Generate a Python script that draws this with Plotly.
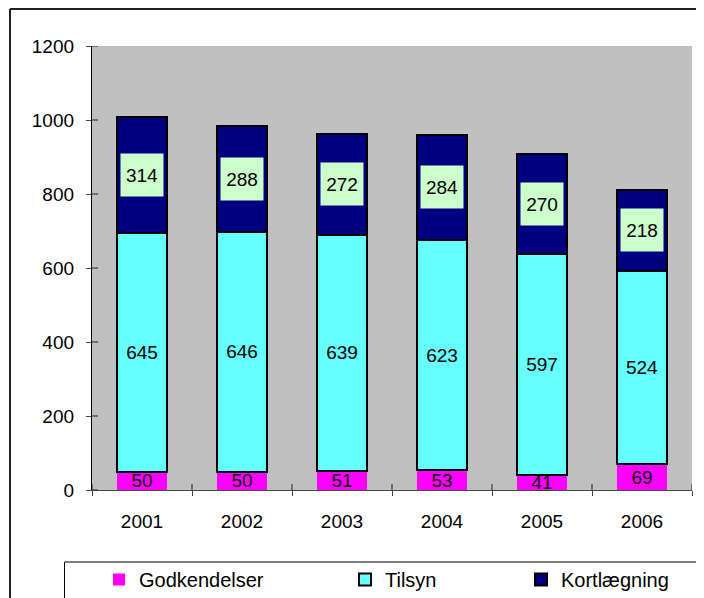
import plotly.graph_objects as go

years = ["2001", "2002", "2003", "2004", "2005", "2006"]
godkendelser = [50, 50, 51, 53, 41, 69]
tilsyn = [645, 646, 639, 623, 597, 524]
kortlaegning = [314, 288, 272, 284, 270, 218]
y_ticks = [0, 200, 400, 600, 800, 1000, 1200]

FONT = "Liberation Sans, Arial, sans-serif"
OFF = 8  # page body margin
W, H = 704 - OFF, 598 - OFF
L, T = 92 - OFF, 46 - OFF
R = W - (692 - OFF)
B = H - (490 - OFF)
PW, PH = W - L - R, H - T - B


def px(x):
    """reference page x -> paper fraction"""
    return (x - OFF - L) / PW


def py(y):
    """reference page y -> paper fraction"""
    return (H - B - (y - OFF)) / PH


lbl_font = dict(family=FONT, size=19, color="black")

fig = go.Figure()
fig.add_trace(go.Bar(
    x=years, y=godkendelser, name="Godkendelser",
    marker=dict(color="#FF00FF", line=dict(width=0)),
    text=godkendelser, textposition="inside", insidetextanchor="middle",
    textangle=0, constraintext="none", textfont=lbl_font,
    legend="legend",
))
fig.add_trace(go.Bar(
    x=years, y=tilsyn, name="Tilsyn",
    marker=dict(color="#66FFFF", line=dict(width=2, color="black")),
    text=tilsyn, textposition="inside", insidetextanchor="middle",
    textangle=0, constraintext="none", textfont=lbl_font,
    legend="legend2",
))
fig.add_trace(go.Bar(
    x=years, y=kortlaegning, name="Kortlægning",
    marker=dict(color="#000080", line=dict(width=2, color="black")),
    legend="legend3",
))

annotations = []
for i, (g, t, k) in enumerate(zip(godkendelser, tilsyn, kortlaegning)):
    annotations.append(dict(
        x=i, y=g + t + k / 2, xref="x", yref="y", text=str(k), showarrow=False,
        font=lbl_font, bgcolor="#CCFFCC", width=40, height=40, borderpad=1,
    ))

shapes = [
    # outer chart frame (left and top edges visible)
    dict(type="line", xref="paper", yref="paper", x0=px(10), x1=px(704),
         y0=py(9), y1=py(9), line=dict(color="#222222", width=2)),
    dict(type="line", xref="paper", yref="paper", x0=px(10), x1=px(10),
         y0=py(9), y1=py(598), line=dict(color="#222222", width=2)),
    # legend box (top and left edges visible)
    dict(type="line", xref="paper", yref="paper", x0=px(64.5), x1=px(704),
         y0=py(562), y1=py(562), line=dict(color="black", width=1)),
    dict(type="line", xref="paper", yref="paper", x0=px(64.5), x1=px(64.5),
         y0=py(562), y1=py(598), line=dict(color="black", width=1)),
]
# inner halves of the crossing tick marks
for i in range(len(years) + 1):
    shapes.append(dict(type="line", xref="x", yref="paper", x0=i - 0.5, x1=i - 0.5,
                       y0=0, y1=6 / PH, line=dict(color="#444444", width=1.3)))
for v in y_ticks:
    shapes.append(dict(type="line", xref="paper", yref="y", x0=0, x1=6 / PW,
                       y0=v, y1=v, line=dict(color="#444444", width=1.3)))

leg_common = dict(orientation="h", yanchor="middle", xanchor="left",
                  font=dict(family=FONT, size=20, color="black"),
                  bgcolor="rgba(0,0,0,0)", borderwidth=0)

fig.update_layout(
    width=W, height=H,
    margin=dict(l=L, r=R, t=T, b=B, pad=0, autoexpand=False),
    paper_bgcolor="white", plot_bgcolor="#C0C0C0",
    barmode="stack", bargap=0.5,
    font=dict(family=FONT, size=19, color="black"),
    showlegend=True,
    xaxis=dict(type="category", range=[-0.5, 5.5], showgrid=False, showline=True,
               linecolor="#444444", linewidth=1.3, ticks="outside",
               tickson="boundaries", ticklen=5, tickcolor="#444444",
               ticklabelstandoff=14, automargin=False,
               tickfont=dict(family=FONT, size=19, color="black")),
    yaxis=dict(range=[0, 1200], tickvals=y_ticks, showgrid=False, showline=True,
               linecolor="black", linewidth=1.3, ticks="outside", ticklen=5,
               tickcolor="#444444", ticklabelstandoff=8, zeroline=False,
               automargin=False,
               tickfont=dict(family=FONT, size=19, color="black")),
    legend=dict(x=px(139 - 40), y=py(579.5), **leg_common),
    legend2=dict(x=px(385 - 40), y=py(579.5), **leg_common),
    legend3=dict(x=px(561 - 40), y=py(579.5), **leg_common),
    annotations=annotations,
    shapes=shapes,
)

fig.write_html("out.html")
